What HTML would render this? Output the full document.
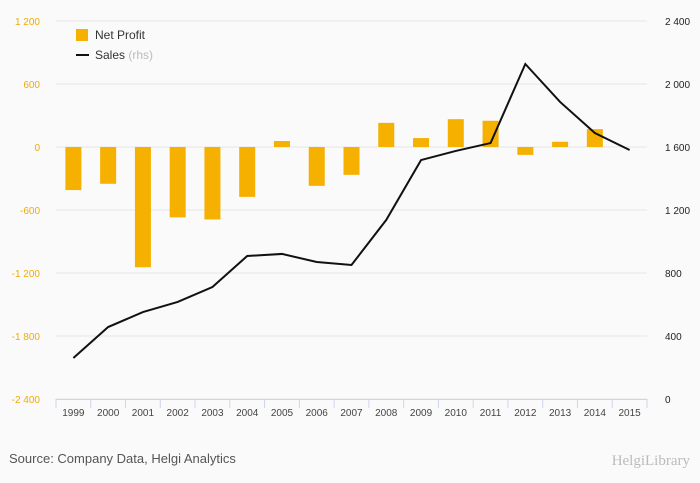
<!DOCTYPE html>
<html><head><meta charset="utf-8"><style>
body{margin:0;background:#fafafa;font-family:"Liberation Sans",sans-serif}
#wrap{position:relative;width:700px;height:483px;overflow:hidden;background:#fafafa}
</style></head><body>
<div id="wrap">
<svg id="chart" width="700" height="483"></svg>
</div>
<script>
const years=[1999,2000,2001,2002,2003,2004,2005,2006,2007,2008,2009,2010,2011,2012,2013,2014,2015];
const netProfit=[-410,-350,-1145,-670,-690,-475,57,-370,-265,230,85,265,250,-75,50,170,null];
const sales=[260,457,552,616,711,908,921,870,851,1137,1517,1575,1625,2127,1886,1689,1581];
const leftTicks=[1200,600,0,-600,-1200,-1800,-2400];
const rightTicks=[2400,2000,1600,1200,800,400,0];
const leftTickLabels=["1 200","600","0","-600","-1 200","-1 800","-2 400"];
const rightTickLabels=["2 400","2 000","1 600","1 200","800","400","0"];

const NS="http://www.w3.org/2000/svg";
const svg=document.getElementById('chart');
function el(t,a,p){const e=document.createElementNS(NS,t);for(const k in a)e.setAttribute(k,a[k]);(p||svg).appendChild(e);return e;}
const plotTop=21,plotBot=399,x0=56,x1=647;
const yL=v=>plotTop+(1200-v)/3600*(plotBot-plotTop);
const yR=v=>plotBot-v/2400*(plotBot-plotTop);
const step=(x1-x0)/years.length;
const xC=i=>x0+step*(i+0.5);

leftTicks.forEach((v,i)=>{
  const g=el('line',{x1:x0,x2:x1,y1:yL(v),y2:yL(v),stroke:'#e6e6e6','stroke-width':1});
  
  
  const t=el('text',{x:40,y:yL(v)+4,'text-anchor':'end','font-size':10,fill:'#f0ab00'});
  t.textContent=leftTickLabels[i];
  
  
});
rightTicks.forEach((v,i)=>{
  const t=el('text',{x:665,y:yR(v)+4,'font-size':10,fill:'#222'});
  t.textContent=rightTickLabels[i];
  
  
});
const ax=el('line',{x1:x0,x2:x1,y1:399.5,y2:399.5,stroke:'#ccd6eb'});


years.forEach((y,i)=>{
  const t=el('text',{x:xC(i),y:416,'text-anchor':'middle','font-size':10,fill:'#444'});
  t.textContent=y;
  
  
  const s=el('line',{x1:x0+step*i,x2:x0+step*i,y1:399,y2:408,stroke:'#ccd6eb'});
  
  
});
const s2=el('line',{x1:x1,x2:x1,y1:399,y2:408,stroke:'#ccd6eb'});


netProfit.forEach((v,i)=>{
  if(v===null)return;
  const y0=yL(0),y=yL(v);
  const b=el('rect',{x:xC(i)-8,y:Math.min(y0,y),width:16,height:Math.abs(y-y0),fill:'#f5b000'});
  
  
});
const p=el('polyline',{points:sales.map((v,i)=>xC(i)+','+yR(v)).join(' '),fill:'none',stroke:'#111','stroke-width':2});


const lr=el('rect',{x:76,y:29,width:12,height:12,fill:'#f5b000'});


const lt=el('text',{x:95,y:39,'font-size':12,fill:'#333'});lt.textContent='Net Profit';


const ll=el('line',{x1:76,x2:89,y1:55,y2:55,stroke:'#111','stroke-width':2});


const st=el('text',{x:95,y:59,'font-size':12,fill:'#333'});st.innerHTML='Sales <tspan fill="#bbb">(rhs)</tspan>';


const src=el('text',{x:9,y:463,'font-size':13,fill:'#555'});src.textContent='Source: Company Data, Helgi Analytics';


const br=el('text',{x:690,y:465,'text-anchor':'end','font-size':15,fill:'#bbb','font-family':'Liberation Serif, serif'});br.textContent='HelgiLibrary';


</script>
</body></html>
